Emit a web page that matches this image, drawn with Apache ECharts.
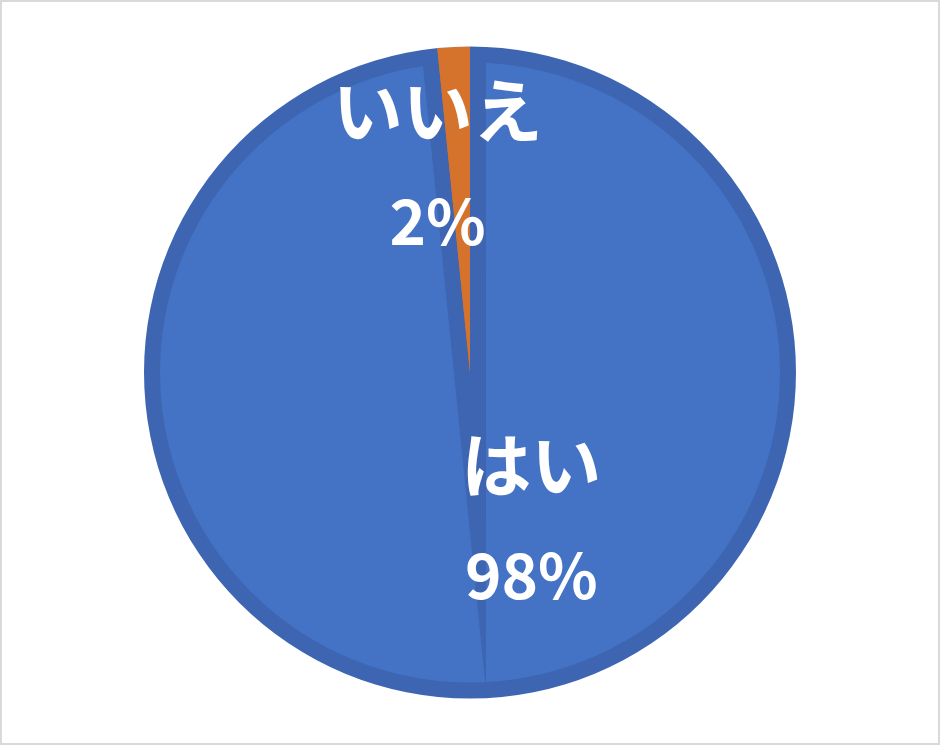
<!DOCTYPE html>
<html>
<head>
<meta charset="utf-8">
<script src="https://cdn.jsdelivr.net/npm/echarts@6/dist/echarts.min.js"></script>
<style>
html,body{margin:0;padding:0;background:#fff;}
#wrap{position:relative;width:940px;height:745px;}
#chart{position:absolute;left:0;top:0;width:940px;height:745px;}
#frame{position:absolute;left:0;top:0;width:940px;height:745px;box-sizing:border-box;border:2px solid #D9D9D9;pointer-events:none;}
</style>
</head>
<body>
<div id="wrap"><div id="chart"></div><div id="frame"></div></div>
<script>
// Data
var categories = ['はい', 'いいえ'];
var values = [98.4, 1.6];
var sliceColors = ['#4472C4', '#D5722C'];

var R = 326;
var blueBorder = '#3D65B2';
var labelShift = [[53, -18], [-24, -40]];

var baseData = categories.map(function (c, i) {
  var item = { name: c, value: values[i], itemStyle: { color: sliceColors[i], borderWidth: 0 } };
  if (i === 0) {
    item.itemStyle = {
      color: sliceColors[0], borderColor: blueBorder, borderWidth: 32,
      borderJoin: 'miter', borderMiterLimit: 40
    };
  }
  return item;
});

var topData = categories.map(function (c, i) {
  return { name: c, value: values[i], itemStyle: { color: i === 0 ? 'rgba(0,0,0,0)' : sliceColors[i], borderWidth: 0 } };
});

var fam = '"Noto Sans CJK JP", "Noto Sans", sans-serif';

var chart = echarts.init(document.getElementById('chart'), null, { renderer: 'canvas' });
chart.setOption({
  animation: false,
  series: [
    {
      type: 'pie', z: 1, center: ['50%', '50%'], radius: R, startAngle: 90, clockwise: true,
      percentPrecision: 0, avoidLabelOverlap: false, silent: true,
      label: { show: false }, labelLine: { show: false },
      emphasis: { disabled: true },
      data: baseData
    },
    {
      type: 'pie', z: 2, center: ['50%', '50%'], radius: R, startAngle: 90, clockwise: true,
      percentPrecision: 0, avoidLabelOverlap: false, silent: true,
      label: {
        show: true, position: 'inside', formatter: '{k|{b}}\n{p|{d}%}',
        color: '#ffffff', fontFamily: fam, fontWeight: 'bold', align: 'center',
        rich: {
          k: { color: '#ffffff', fontFamily: fam, fontWeight: 'bold', fontSize: 70, lineHeight: 110, align: 'center' },
          p: { color: '#ffffff', fontFamily: fam, fontWeight: 'bold', fontSize: 62, lineHeight: 110, align: 'center' }
        }
      },
      labelLine: { show: false },
      labelLayout: function (p) {
        var s = labelShift[p.dataIndex];
        return { dx: s[0], dy: s[1] };
      },
      emphasis: { disabled: true },
      data: topData
    },
    {
      type: 'pie', z: 3, center: ['50%', '50%'], radius: [R, R + 40], silent: true,
      label: { show: false }, labelLine: { show: false },
      emphasis: { disabled: true },
      itemStyle: { color: '#ffffff', borderWidth: 0 },
      data: [{ name: 'ring', value: 1 }]
    }
  ]
});
</script>
</body>
</html>
